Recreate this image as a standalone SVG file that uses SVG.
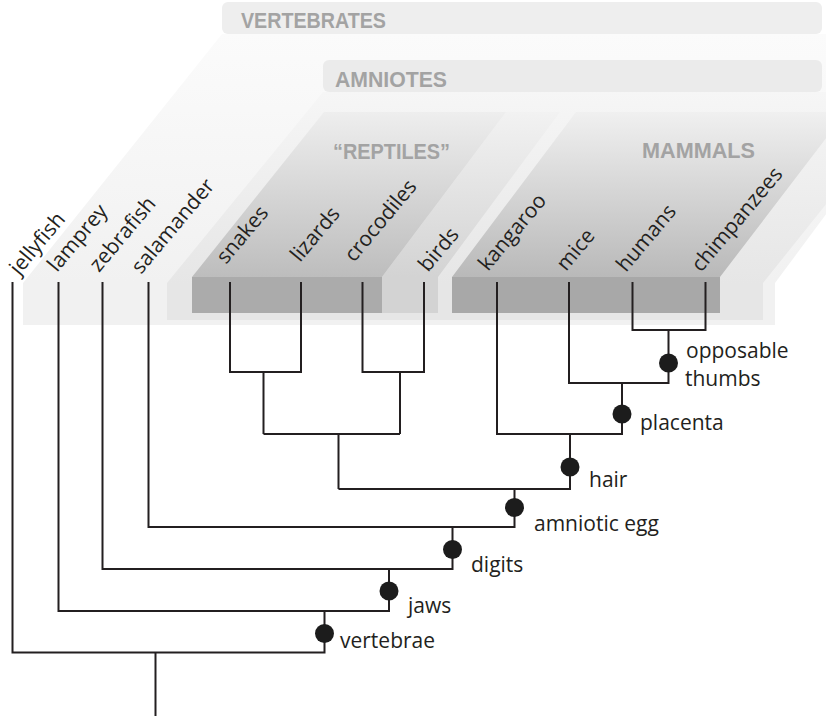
<svg xmlns="http://www.w3.org/2000/svg" width="826" height="719" viewBox="0 0 826 719">
<defs>
<linearGradient id="gV" gradientUnits="userSpaceOnUse" x1="0" y1="34" x2="0" y2="283"><stop offset="0" stop-color="#fbfbfb"/><stop offset="1" stop-color="#f1f1f1"/></linearGradient>
<linearGradient id="gA" gradientUnits="userSpaceOnUse" x1="0" y1="92" x2="0" y2="283"><stop offset="0" stop-color="#f6f6f6"/><stop offset="1" stop-color="#e6e6e6"/></linearGradient>
<linearGradient id="gR" gradientUnits="userSpaceOnUse" x1="0" y1="112" x2="0" y2="277"><stop offset="0" stop-color="#eeeeee"/><stop offset="1" stop-color="#bdbdbd"/></linearGradient>
<linearGradient id="gB" gradientUnits="userSpaceOnUse" x1="0" y1="112" x2="0" y2="277"><stop offset="0" stop-color="#f2f2f2"/><stop offset="1" stop-color="#d3d3d3"/></linearGradient>
<linearGradient id="gM" gradientUnits="userSpaceOnUse" x1="0" y1="112" x2="0" y2="277"><stop offset="0" stop-color="#f0f0f0"/><stop offset="1" stop-color="#b9b9b9"/></linearGradient>
</defs>
<style>
.head{font-family:"Liberation Sans",Arial,sans-serif;font-weight:bold;font-size:22px;fill:#a3a3a3}
.lbl{font-family:"Open Sans","Noto Sans",sans-serif;font-size:21px;fill:#231f20}
.ln{fill:none;stroke:#231f20;stroke-width:2}
.dot{fill:#1c1c1c}
</style>
<rect width="826" height="719" fill="#ffffff"/>
<g id="bg-vertebrates">
<polygon points="222,34 822,34 960,34 775,283 775,325 23,325 23,283" fill="url(#gV)"/>
<rect x="222" y="2" width="600" height="32" rx="6" fill="#eeeeee"/>
<text class="head" x="241" y="28" textLength="145" lengthAdjust="spacingAndGlyphs">VERTEBRATES</text>
</g>
<g id="bg-amniotes">
<polygon points="323,92 916,92 763,283 763,320 167,320 167,283" fill="url(#gA)"/>
<rect x="323" y="60" width="499" height="32" rx="6" fill="#ebebeb"/>
<text class="head" x="335" y="87" textLength="112" lengthAdjust="spacingAndGlyphs">AMNIOTES</text>
</g>
<g id="bg-reptiles">
<polygon points="506,112 560,112 438,277 438,313 382,313 382,277" fill="url(#gB)"/>
<polygon points="324,112 506,112 382,277 192,277" fill="url(#gR)"/>
<rect x="192" y="277" width="190" height="36" fill="#ababab"/>
<text class="head" x="333" y="159" textLength="117" lengthAdjust="spacingAndGlyphs">“REPTILES”</text>
</g>
<g id="bg-mammals">
<polygon points="576,112 846,112 720,277 720,313 452,313 452,277" fill="url(#gM)"/>
<rect x="452" y="277" width="268" height="36" fill="#a8a8a8"/>
<text class="head" x="642" y="158" textLength="113" lengthAdjust="spacingAndGlyphs">MAMMALS</text>
</g>
<g id="connectors">
<path class="ln" d="M12.5 282V652.5H324.5V611"/>
<path class="ln" d="M155.5 652.5V716"/>
<path class="ln" d="M58.5 282V611H389V569"/>
<path class="ln" d="M102.5 282V569H452.5V527"/>
<path class="ln" d="M148.5 282V527H514.5V489"/>
<path class="ln" d="M338.5 489H570V434"/>
<path class="ln" d="M230 282V372H301V282"/>
<path class="ln" d="M362.5 282V372H424V282"/>
<path class="ln" d="M263.5 372V434"/>
<path class="ln" d="M400 372V434"/>
<path class="ln" d="M263.5 434H400"/>
<path class="ln" d="M338.5 434V489"/>
<path class="ln" d="M497 282V434H622V383"/>
<path class="ln" d="M569 282V383H668.5V330"/>
<path class="ln" d="M632.5 282V330H705.5V282"/>
</g>
<g id="leaf-jellyfish"><text class="lbl" transform="translate(19 276) rotate(-50)">jellyfish</text></g>
<g id="leaf-lamprey"><text class="lbl" transform="translate(57 273) rotate(-50)">lamprey</text></g>
<g id="leaf-zebrafish"><text class="lbl" transform="translate(99 273) rotate(-50)">zebrafish</text></g>
<g id="leaf-salamander"><text class="lbl" transform="translate(141 275) rotate(-50)">salamander</text></g>
<g id="leaf-snakes"><text class="lbl" transform="translate(226 265) rotate(-50)">snakes</text></g>
<g id="leaf-lizards"><text class="lbl" transform="translate(300 263) rotate(-50)">lizards</text></g>
<g id="leaf-crocodiles"><text class="lbl" transform="translate(354 263) rotate(-50)">crocodiles</text></g>
<g id="leaf-birds"><text class="lbl" transform="translate(428 273) rotate(-50)">birds</text></g>
<g id="leaf-kangaroo"><text class="lbl" transform="translate(488 272) rotate(-50)">kangaroo</text></g>
<g id="leaf-mice"><text class="lbl" transform="translate(566 272) rotate(-50)">mice</text></g>
<g id="leaf-humans"><text class="lbl" transform="translate(626 273) rotate(-50)">humans</text></g>
<g id="leaf-chimpanzees"><text class="lbl" transform="translate(701 273) rotate(-50)">chimpanzees</text></g>
<g id="node-opposable-thumbs"><circle class="dot" cx="668.5" cy="363" r="9.5"/><text class="lbl" x="686" y="358">opposable</text><text class="lbl" x="685" y="386">thumbs</text></g>
<g id="node-placenta"><circle class="dot" cx="622" cy="414" r="9.5"/><text class="lbl" x="640" y="430">placenta</text></g>
<g id="node-hair"><circle class="dot" cx="570" cy="467" r="9.5"/><text class="lbl" x="589" y="487">hair</text></g>
<g id="node-amniotic-egg"><circle class="dot" cx="514.5" cy="507.5" r="9.5"/><text class="lbl" x="534" y="531">amniotic egg</text></g>
<g id="node-digits"><circle class="dot" cx="452.5" cy="549.5" r="9.5"/><text class="lbl" x="471" y="572">digits</text></g>
<g id="node-jaws"><circle class="dot" cx="389" cy="591" r="9.5"/><text class="lbl" x="408" y="613">jaws</text></g>
<g id="node-vertebrae"><circle class="dot" cx="324.5" cy="633.5" r="9.5"/><text class="lbl" x="340" y="648">vertebrae</text></g>
</svg>
